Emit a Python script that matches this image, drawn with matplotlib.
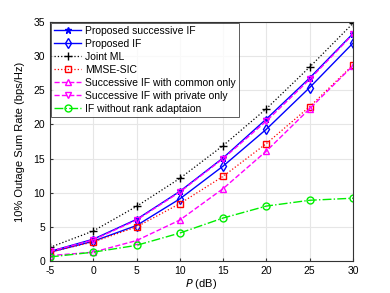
import numpy as np
import matplotlib.pyplot as plt

plt.rcParams['font.family'] = ['Liberation Sans', 'DejaVu Sans']
plt.rcParams['axes.unicode_minus'] = False

P_dB = [-5, 0, 5, 10, 15, 20, 25, 30]
succ_if = [1.4, 3.2, 6.1, 10.2, 15.1, 20.8, 26.8, 33.3]
prop_if = [1.3, 2.9, 5.2, 9.1, 13.9, 19.3, 25.4, 31.9]
joint_ml = [2.0, 4.4, 8.0, 12.1, 16.9, 22.3, 28.4, 34.8]
mmse_sic = [1.3, 2.8, 5.0, 8.4, 12.4, 17.2, 22.6, 28.7]
common_only = [0.8, 1.3, 3.0, 6.0, 10.6, 16.1, 22.3, 28.6]
private_only = [1.4, 3.1, 6.0, 10.1, 15.0, 20.5, 26.6, 33.2]
no_rank = [0.6, 1.3, 2.3, 4.1, 6.3, 8.05, 8.9, 9.2]

fig = plt.figure(figsize=(3.9, 2.93), dpi=100)
ax = fig.add_axes([0.128, 0.109, 0.777, 0.816])

ax.plot(P_dB, succ_if, '-', color='blue', marker='*', ms=5, lw=1, label='Proposed successive IF')
ax.plot(P_dB, prop_if, '-', color='blue', marker='d', ms=5, mfc='none', lw=1, label='Proposed IF')
ax.plot(P_dB, joint_ml, ':', color='black', marker='+', ms=6, lw=0.9, label='Joint ML')
ax.plot(P_dB, mmse_sic, ':', color='red', marker='s', ms=4.5, mfc='none', lw=0.9, label='MMSE-SIC')
ax.plot(P_dB, common_only, '--', color='magenta', marker='^', ms=5, mfc='none', lw=1,
        label='Successive IF with common only')
ax.plot(P_dB, private_only, '--', color='magenta', marker='v', ms=5, mfc='none', lw=1,
        label='Successive IF with private only')
ax.plot(P_dB, no_rank, '-.', color='#00ee00', marker='o', ms=5, mfc='none', lw=1,
        label='IF without rank adaptaion')

ax.set_xlim(-5, 30)
ax.set_ylim(0, 35)
ax.set_xticks(np.arange(-5, 31, 5))
ax.set_yticks(np.arange(0, 36, 5))
ax.tick_params(labelsize=7.5, direction='in', length=2, color='#333333')
ax.grid(True, color='#e6e6e6', lw=0.8)
for s in ax.spines.values():
    s.set_color('#333333')
    s.set_linewidth(0.8)

ax.set_xlabel('$P$ (dB)', fontsize=8, labelpad=1)
ax.set_ylabel('10% Outage Sum Rate (bps/Hz)', fontsize=8, labelpad=6)

leg = ax.legend(loc='upper left', fontsize=7.5, frameon=True, fancybox=False,
                edgecolor='#333333', handlelength=2.6, borderaxespad=0.1,
                labelspacing=0.28, borderpad=0.3, handletextpad=0.4)
leg.get_frame().set_linewidth(0.7)

fig.savefig('out.png', dpi=100)
